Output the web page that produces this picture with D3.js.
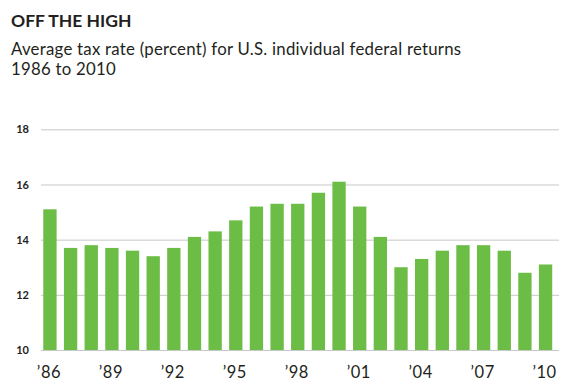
<!DOCTYPE html>
<html>
<head>
<meta charset="utf-8">
<script src="https://cdn.jsdelivr.net/npm/d3@7"></script>
<style>
  html, body { margin: 0; padding: 0; background: #fff; }
  svg { display: block; }
</style>
</head>
<body>
<svg id="chart" width="570" height="388"></svg>
<script>
const years = ["1986","1987","1988","1989","1990","1991","1992","1993","1994","1995","1996","1997","1998","1999","2000","2001","2002","2003","2004","2005","2006","2007","2008","2009","2010"];
const taxRate = [15.1,13.7,13.8,13.7,13.6,13.4,13.7,14.1,14.3,14.7,15.2,15.3,15.3,15.7,16.1,15.2,14.1,13.0,13.3,13.6,13.8,13.8,13.6,12.8,13.1];
const yTicks = [10,12,14,16,18];
const xTickYears = ["1986","1989","1992","1995","1998","2001","2004","2007","2010"];
const xTickLabels = ["\u201986","\u201989","\u201992","\u201995","\u201998","\u201901","\u201904","\u201907","\u201910"];

const svg = d3.select("#chart");
const font = "Lato, 'Open Sans', sans-serif";

svg.append("text").attr("x", 11).attr("y", 27)
  .attr("font-family", font).attr("font-weight", 700).attr("font-size", 17.5)
  .attr("fill", "#231f20").text("OFF THE HIGH");
svg.append("text").attr("x", 11).attr("y", 55)
  .attr("font-family", font).attr("font-size", 16.8).attr("letter-spacing", 0.25)
  .attr("fill", "#231f20").text("Average tax rate (percent) for U.S. individual federal returns");
svg.append("text").attr("x", 11).attr("y", 75)
  .attr("font-family", font).attr("font-size", 16.8).attr("letter-spacing", 0.25)
  .attr("fill", "#231f20").text("1986 to 2010");

const y = d3.scaleLinear().domain([10, 18]).range([350, 129.3]);
const x = d3.scaleBand().domain(years).range([39.6, 555.9]).paddingInner(0.355).paddingOuter(0.178);

// gridlines
const yAxis = d3.axisLeft(y).tickValues(yTicks).tickSize(-518).tickFormat(d3.format("d")).tickPadding(12);
const gy = svg.append("g").attr("transform", "translate(41,0)").call(yAxis);
gy.select(".domain").remove();
gy.selectAll(".tick line").attr("stroke", "#c8c8c8").attr("stroke-width", 1);
gy.selectAll(".tick text").attr("font-family", font).attr("font-weight", 700)
  .attr("font-size", 11).attr("fill", "#231f20");

svg.append("g").selectAll("rect").data(years).join("rect")
  .attr("x", d => x(d))
  .attr("width", x.bandwidth())
  .attr("y", (d, i) => y(taxRate[i]))
  .attr("height", (d, i) => y(10) - y(taxRate[i]))
  .attr("fill", "#6cbd45");

const labelMap = new Map(xTickYears.map((d, i) => [d, xTickLabels[i]]));
const xAxis = d3.axisBottom(x).tickValues(xTickYears).tickSize(0).tickPadding(0)
  .tickFormat(d => labelMap.get(d));
const gx = svg.append("g").attr("transform", "translate(-1,366)").call(xAxis);
gx.select(".domain").remove();
gx.selectAll(".tick text").attr("font-family", font).attr("font-size", 16.5)
  .attr("letter-spacing", 0.5)
  .attr("fill", "#231f20").attr("dy", "0.72em");
</script>
</body>
</html>
